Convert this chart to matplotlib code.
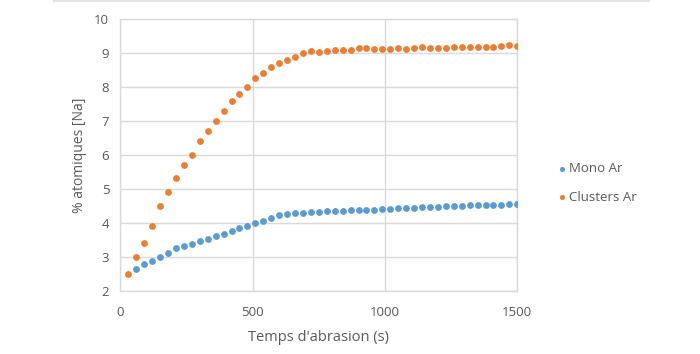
import numpy as np
import matplotlib.pyplot as plt
from matplotlib.lines import Line2D

plt.rcParams['font.family'] = ['Open Sans', 'DejaVu Sans']

# time (s)
t_clusters = np.arange(30, 1501, 30)
t_mono = np.arange(60, 1501, 30)

clusters_ar = [2.5, 3.0, 3.4, 3.9, 4.5, 4.9, 5.32, 5.71, 6.0, 6.4,
               6.71, 7.0, 7.3, 7.6, 7.8, 8.0, 8.27, 8.41, 8.61, 8.71,
               8.81, 8.9, 9.02, 9.06, 9.04, 9.06, 9.09, 9.11, 9.10, 9.16,
               9.15, 9.14, 9.14, 9.14, 9.15, 9.12, 9.17, 9.19, 9.17, 9.17,
               9.15, 9.20, 9.20, 9.20, 9.18, 9.18, 9.20, 9.21, 9.24, 9.23]

mono_ar = [2.63, 2.78, 2.88, 3.0, 3.12, 3.25, 3.31, 3.38, 3.46, 3.53,
           3.61, 3.68, 3.77, 3.84, 3.91, 3.99, 4.06, 4.14, 4.22, 4.25,
           4.30, 4.30, 4.31, 4.33, 4.34, 4.34, 4.36, 4.37, 4.37, 4.38,
           4.39, 4.42, 4.42, 4.45, 4.45, 4.45, 4.48, 4.47, 4.48, 4.49,
           4.50, 4.51, 4.52, 4.53, 4.54, 4.54, 4.54, 4.55, 4.57]

blue = '#5B9BD5'
orange = '#ED7D31'
grid_c = '#d9d9d9'
text_c = '#595959'

fig = plt.figure(figsize=(7, 3.54), dpi=100)
ax = fig.add_axes([0.172, 0.179, 0.567, 0.766])

ax.scatter(t_mono, mono_ar, s=24, color=blue, label='Mono Ar', zorder=3, linewidths=0)
ax.scatter(t_clusters, clusters_ar, s=24, color=orange, label='Clusters Ar', zorder=3, linewidths=0)

ax.set_xlim(0, 1500)
ax.set_ylim(2, 10)
ax.set_xticks([0, 500, 1000, 1500])
ax.set_yticks(range(2, 11))
ax.grid(True, color=grid_c, linewidth=1)
ax.set_axisbelow(True)
for sp in ax.spines.values():
    sp.set_color(grid_c)
    sp.set_linewidth(1)
ax.tick_params(length=0, colors=text_c, labelsize=9.5)
ax.tick_params(axis='y', pad=8)
ax.tick_params(axis='x', pad=11)

ax.set_xlabel("Temps d'abrasion (s)", color=text_c, fontsize=10.5)
ax.set_ylabel('% atomiques [Na]', color=text_c, fontsize=10)
ax.xaxis.set_label_coords(0.5, -0.147)
ax.yaxis.set_label_coords(-0.084, 0.5)

leg = ax.legend(loc='center left', bbox_to_anchor=(1.065, 0.397), frameon=False,
                fontsize=9.5, handletextpad=0.1, labelspacing=1.2, markerscale=0.75,
                handlelength=1.0)
for txt in leg.get_texts():
    txt.set_color(text_c)

# faint chart-area border at top
fig.add_artist(Line2D([54 / 700, 649 / 700], [0.997, 0.997], color='#e3e3e3',
                      linewidth=1.5, transform=fig.transFigure))

fig.savefig('out.png', dpi=100)
